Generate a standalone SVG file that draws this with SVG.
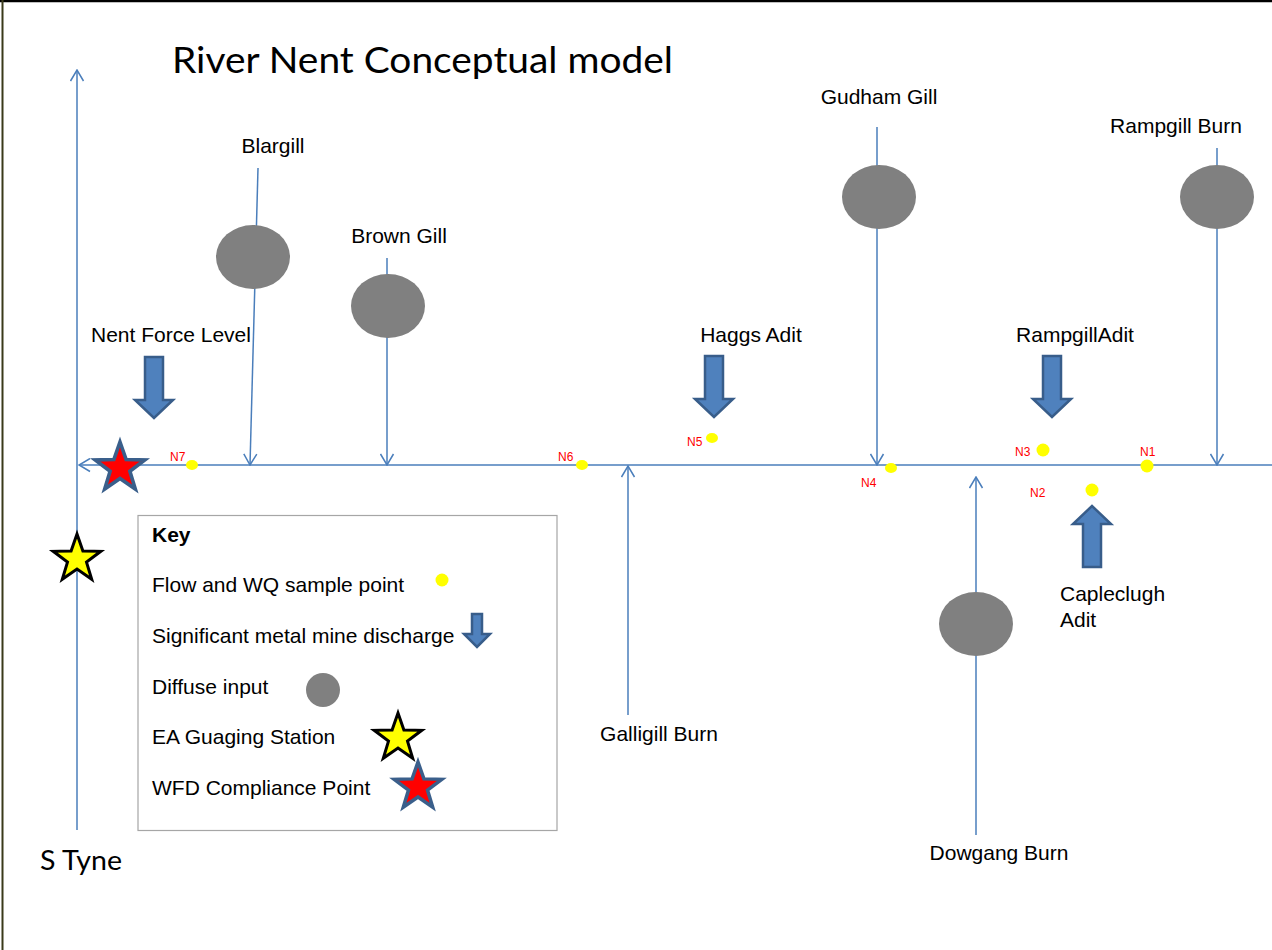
<svg xmlns="http://www.w3.org/2000/svg" width="1272" height="950" viewBox="0 0 1272 950">
<style>
.t{font-family:"Liberation Sans",Arial,sans-serif;font-size:21px;fill:#000}
.c{font-family:Lato,"Open Sans",sans-serif;fill:#000}
.n{font-family:"Liberation Sans",Arial,sans-serif;font-size:12px;fill:#ff0000}
.ln{stroke:#4a7ebb;stroke-width:1.5;fill:none}
.dot{fill:#ffff00}
.dif{fill:#808080}
.blk{fill:#4f81bd;stroke:#385d8a;stroke-width:2.5;stroke-linejoin:miter}
.wfd{fill:#ff0000;stroke:#3a5f8b;stroke-width:3.5;stroke-linejoin:miter}
.ea{fill:#ffff00;stroke:#000;stroke-width:3;stroke-linejoin:miter}
</style>
<defs>
<marker id="open" viewBox="0 0 13 15" refX="12" refY="7.5" markerWidth="13" markerHeight="15" orient="auto" markerUnits="userSpaceOnUse">
<path d="M1,1 L12,7.5 L1,14" fill="none" stroke="#4a7ebb" stroke-width="1.5"/>
</marker>
<polygon id="star" points="0,-25 5.9,-8.1 23.8,-7.7 9.5,3.1 14.7,20.2 0,10 -14.7,20.2 -9.5,3.1 -23.8,-7.7 -5.9,-8.1"/>
<path id="down" d="M-9,0 L9,0 L9,43 L19,43 L0,61 L-19,43 L-9,43 Z"/>
</defs>
<rect width="1272" height="950" fill="#fff"/>
<line x1="0" y1="1" x2="1272" y2="1" stroke="#000" stroke-width="2.5"/>
<line x1="2.5" y1="0" x2="2.5" y2="950" stroke="#3a3a1a" stroke-width="2"/>

<text class="c" x="172" y="73" font-size="36" textLength="501" lengthAdjust="spacingAndGlyphs">River Nent Conceptual model</text>

<g id="connectors">
<line class="ln" x1="77" y1="830" x2="77" y2="70" marker-end="url(#open)"/>
<line class="ln" x1="1272" y1="465" x2="79" y2="465" marker-end="url(#open)"/>
<line class="ln" x1="258" y1="168" x2="250" y2="465" marker-end="url(#open)"/>
<line class="ln" x1="387" y1="258" x2="387" y2="465" marker-end="url(#open)"/>
<line class="ln" x1="877" y1="127" x2="877" y2="465" marker-end="url(#open)"/>
<line class="ln" x1="1217" y1="148" x2="1217" y2="465" marker-end="url(#open)"/>
<line class="ln" x1="628" y1="715" x2="628" y2="466" marker-end="url(#open)"/>
<line class="ln" x1="976" y1="835" x2="976" y2="477" marker-end="url(#open)"/>
</g>

<g id="s-tyne"><text class="c" x="40" y="870" font-size="26" textLength="82" lengthAdjust="spacingAndGlyphs">S Tyne</text></g>

<g id="blargill"><text class="t" x="273" y="153" text-anchor="middle">Blargill</text><ellipse class="dif" cx="253" cy="257" rx="37" ry="32"/></g>
<g id="brown-gill"><text class="t" x="399" y="243" text-anchor="middle">Brown Gill</text><ellipse class="dif" cx="388" cy="306" rx="37" ry="32"/></g>
<g id="gudham-gill"><text class="t" x="879" y="104" text-anchor="middle">Gudham Gill</text><ellipse class="dif" cx="879" cy="197" rx="37" ry="32"/></g>
<g id="rampgill-burn"><text class="t" x="1176" y="133" text-anchor="middle">Rampgill Burn</text><ellipse class="dif" cx="1217" cy="197" rx="37" ry="32"/></g>
<g id="galligill-burn"><text class="t" x="659" y="741" text-anchor="middle">Galligill Burn</text></g>
<g id="dowgang-burn"><text class="t" x="999" y="860" text-anchor="middle">Dowgang Burn</text><ellipse class="dif" cx="976" cy="624" rx="37" ry="32"/></g>

<g id="nent-force-level"><text class="t" x="91" y="342">Nent Force Level</text><use href="#down" class="blk" transform="translate(154,357)"/></g>
<g id="haggs-adit"><text class="t" x="751" y="342" text-anchor="middle">Haggs Adit</text><use href="#down" class="blk" transform="translate(714,356)"/></g>
<g id="rampgill-adit"><text class="t" x="1075" y="342" text-anchor="middle">RampgillAdit</text><use href="#down" class="blk" transform="translate(1052,356)"/></g>
<g id="capleclugh-adit"><text class="t" x="1060" y="601">Capleclugh</text><text class="t" x="1060" y="627">Adit</text><use href="#down" class="blk" transform="translate(1092,567) scale(1,-1)"/></g>

<g id="n7"><ellipse class="dot" cx="192" cy="465" rx="6" ry="5"/><text class="n" x="170" y="461">N7</text></g>
<g id="n6"><ellipse class="dot" cx="582" cy="465" rx="6" ry="5"/><text class="n" x="558" y="461">N6</text></g>
<g id="n5"><ellipse class="dot" cx="712" cy="438" rx="6" ry="5"/><text class="n" x="687" y="446">N5</text></g>
<g id="n4"><ellipse class="dot" cx="891" cy="468" rx="6" ry="5"/><text class="n" x="861" y="487">N4</text></g>
<g id="n3"><circle class="dot" cx="1043" cy="450" r="6.5"/><text class="n" x="1015" y="456">N3</text></g>
<g id="n2"><circle class="dot" cx="1092" cy="490" r="6.5"/><text class="n" x="1030" y="497">N2</text></g>
<g id="n1"><circle class="dot" cx="1147" cy="466" r="6.5"/><text class="n" x="1140" y="456">N1</text></g>

<g id="wfd-point"><use href="#star" class="wfd" transform="translate(120,468) scale(1.04)"/></g>
<g id="ea-station"><use href="#star" class="ea" transform="translate(77,559)"/></g>

<g id="key">
<rect x="138" y="515.5" width="419" height="315" fill="#fff" stroke="#a6a6a6" stroke-width="1.2"/>
<text class="t" x="152" y="542" font-weight="bold" font-size="18">Key</text>
<text class="t" x="152" y="592">Flow and WQ sample point</text>
<circle class="dot" cx="442" cy="580" r="6.5"/>
<text class="t" x="152" y="643">Significant metal mine discharge</text>
<path class="blk" stroke-width="2" d="M472,614 L482,614 L482,634 L490,634 L477,647 L464,634 L472,634 Z"/>
<text class="t" x="152" y="694">Diffuse input</text>
<circle class="dif" cx="323" cy="690" r="17"/>
<text class="t" x="152" y="744">EA Guaging Station</text>
<use href="#star" class="ea" transform="translate(398,738)"/>
<text class="t" x="152" y="795">WFD Compliance Point</text>
<use href="#star" class="wfd" transform="translate(418,787)"/>
</g>
</svg>
